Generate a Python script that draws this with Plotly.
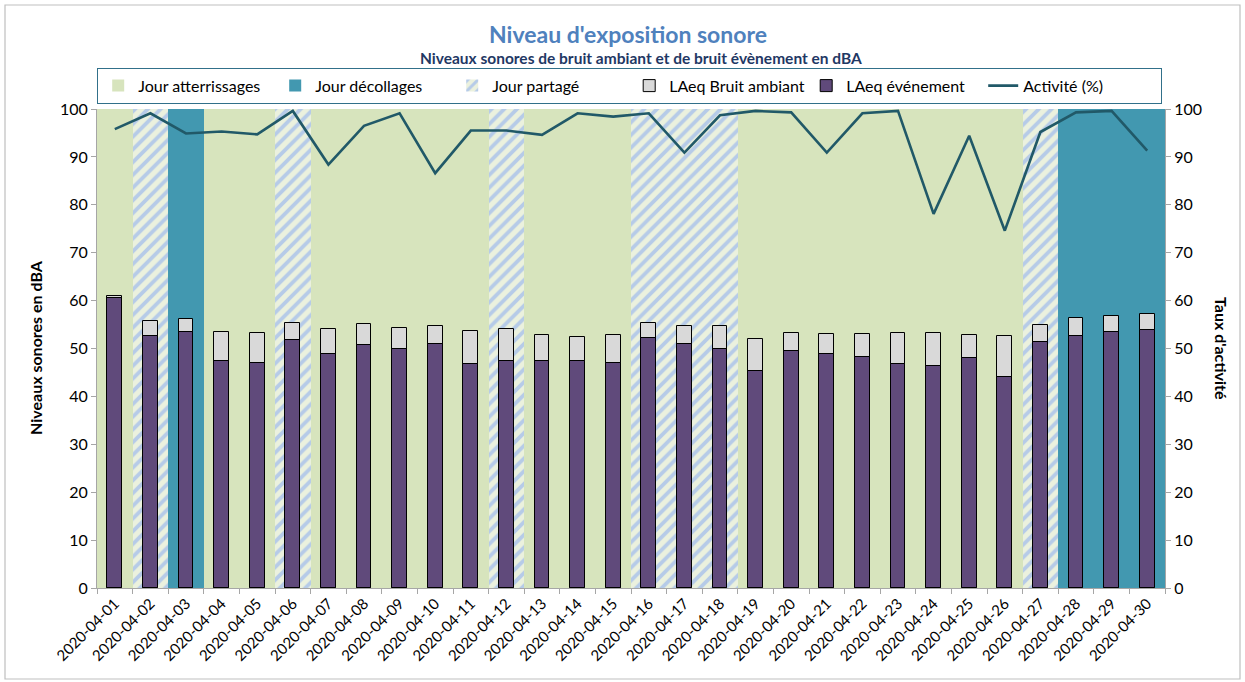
import plotly.graph_objects as go

dates = [f"2020-04-{d:02d}" for d in range(1, 31)]

# day type: A = atterrissages, D = décollages, P = partagé
day_type = ["A", "P", "D", "A", "A", "P", "A", "A", "A", "A",
            "A", "P", "A", "A", "A", "P", "P", "P", "A", "A",
            "A", "A", "A", "A", "A", "A", "P", "D", "D", "D"]

laeq_ambiant = [61.0, 55.8, 56.2, 53.4, 53.2, 55.4, 54.0, 55.1, 54.3, 54.8,
                53.6, 54.1, 52.8, 52.3, 52.8, 55.4, 54.8, 54.7, 52.0, 53.3,
                53.0, 53.0, 53.2, 53.2, 52.9, 52.7, 54.9, 56.4, 56.8, 57.3]

laeq_evenement = [60.5, 52.7, 53.5, 47.3, 46.9, 51.8, 48.9, 50.7, 50.0, 50.9,
                  46.7, 47.3, 47.4, 47.3, 46.9, 52.1, 50.9, 50.0, 45.2, 49.5,
                  48.8, 48.2, 46.7, 46.4, 48.0, 44.0, 51.3, 52.7, 53.4, 53.8]

activite = [95.8, 99.1, 94.9, 95.3, 94.7, 99.6, 88.4, 96.5, 99.1, 86.6,
            95.5, 95.5, 94.6, 99.1, 98.4, 99.1, 90.9, 98.7, 99.6, 99.3,
            90.9, 99.1, 99.6, 78.1, 94.4, 74.6, 95.2, 99.3, 99.6, 91.3]

FULL = 100

FONT = "Lato"
GREEN = "#d7e4bd"
TEAL = "#4298b0"
HATCH_BG = "#ebf1de"
HATCH_FG = "#b6cbe8"
PURPLE = "#604a7b"
GREY = "#d9d9d9"
LINE = "#215968"

fig = go.Figure()

fig.add_trace(go.Bar(
    x=dates, y=[FULL if t == "A" else None for t in day_type],
    name="Jour atterrissages", width=1, marker=dict(color=GREEN, line=dict(width=0)),
    yaxis="y"))
fig.add_trace(go.Bar(
    x=dates, y=[FULL if t == "D" else None for t in day_type],
    name="Jour décollages", width=1, marker=dict(color=TEAL, line=dict(width=0)),
    yaxis="y"))
fig.add_trace(go.Bar(
    x=dates, y=[FULL if t == "P" else None for t in day_type],
    name="Jour partagé", width=1,
    marker=dict(color=HATCH_BG, line=dict(width=0),
                pattern=dict(shape="/", bgcolor=HATCH_BG, fgcolor=HATCH_FG,
                             size=9, solidity=0.42, fillmode="replace")),
    yaxis="y"))
fig.add_trace(go.Bar(
    x=dates, y=laeq_ambiant, name="LAeq Bruit ambiant", width=0.42,
    marker=dict(color=GREY, line=dict(color="#000000", width=1)), yaxis="y"))
fig.add_trace(go.Bar(
    x=dates, y=laeq_evenement, name="LAeq événement", width=0.42,
    marker=dict(color=PURPLE, line=dict(color="#000000", width=1)), yaxis="y"))
fig.add_trace(go.Scatter(
    x=dates, y=activite, name="Activité (%)", mode="lines",
    line=dict(color=LINE, width=2.6), yaxis="y2"))

fig.update_layout(
    width=1245, height=682,
    margin=dict(l=97, r=80, t=109, b=94, autoexpand=False),
    paper_bgcolor="white", plot_bgcolor="white",
    barmode="overlay", bargap=0,
    font=dict(family=FONT, size=14, color="#000000"),
    showlegend=True,
    legend=dict(orientation="h", x=0.0, xanchor="left", y=(588 - 86) / 479, yanchor="middle",
                bordercolor="#31708a", borderwidth=1.2, bgcolor="white",
                font=dict(family=FONT, size=16, color="#000000"),
                entrywidth=132, entrywidthmode="pixels", traceorder="normal",
                itemwidth=30),
    xaxis=dict(type="category", tickangle=-45, tickson="boundaries",
               ticks="outside", ticklen=5, tickcolor="#a6a6a6",
               showline=True, linecolor="#a6a6a6", linewidth=1,
               showgrid=False, tickfont=dict(size=15), automargin=False),
    yaxis=dict(range=[0, 100], dtick=10, ticks="outside", ticklen=5,
               tickcolor="#a6a6a6", showline=True, linecolor="#a6a6a6",
               showgrid=False, zeroline=False, tickfont=dict(size=16), automargin=False),
    yaxis2=dict(range=[0, 100], dtick=10, overlaying="y", side="right",
                ticks="outside", ticklen=5, tickcolor="#a6a6a6",
                showline=True, linecolor="#a6a6a6", showgrid=False, zeroline=False,
                tickfont=dict(size=16), automargin=False),
)

fig.add_annotation(text="<b>Niveau d'exposition sonore</b>", xref="paper", yref="paper",
                   x=(628 - 97) / 1068, y=(588 - 34) / 479, xanchor="center", yanchor="middle",
                   showarrow=False, font=dict(family=FONT, size=23, color="#4f81bd"))
fig.add_annotation(text="<b>Niveaux sonores de bruit ambiant et de bruit évènement en dBA</b>",
                   xref="paper", yref="paper", x=(641 - 97) / 1068, y=(588 - 58) / 479,
                   xanchor="center", yanchor="middle", showarrow=False,
                   font=dict(family=FONT, size=15.5, color="#1f3864"))
fig.add_annotation(text="<b>Niveaux sonores en dBA</b>", xref="paper", yref="paper",
                   x=(35 - 97) / 1068, y=(588 - 348) / 479, xanchor="center", yanchor="middle",
                   textangle=-90, showarrow=False, font=dict(family=FONT, size=16, color="#000000"))
fig.add_annotation(text="<b>Taux d'activité</b>", xref="paper", yref="paper",
                   x=(1222 - 97) / 1068, y=(588 - 348) / 479, xanchor="center", yanchor="middle",
                   textangle=90, showarrow=False, font=dict(family=FONT, size=16, color="#000000"))

fig.add_shape(type="rect", xref="paper", yref="paper",
              x0=(5 - 97) / 1068, x1=(1240 - 97) / 1068,
              y0=(588 - 679) / 479, y1=(588 - 5) / 479,
              line=dict(color="#bfbfbf", width=1.2), fillcolor="rgba(0,0,0,0)", layer="below")

fig.write_html("out.html", config={"displayModeBar": False},
               post_script="document.body.style.margin='0';document.body.style.overflow='hidden';")
